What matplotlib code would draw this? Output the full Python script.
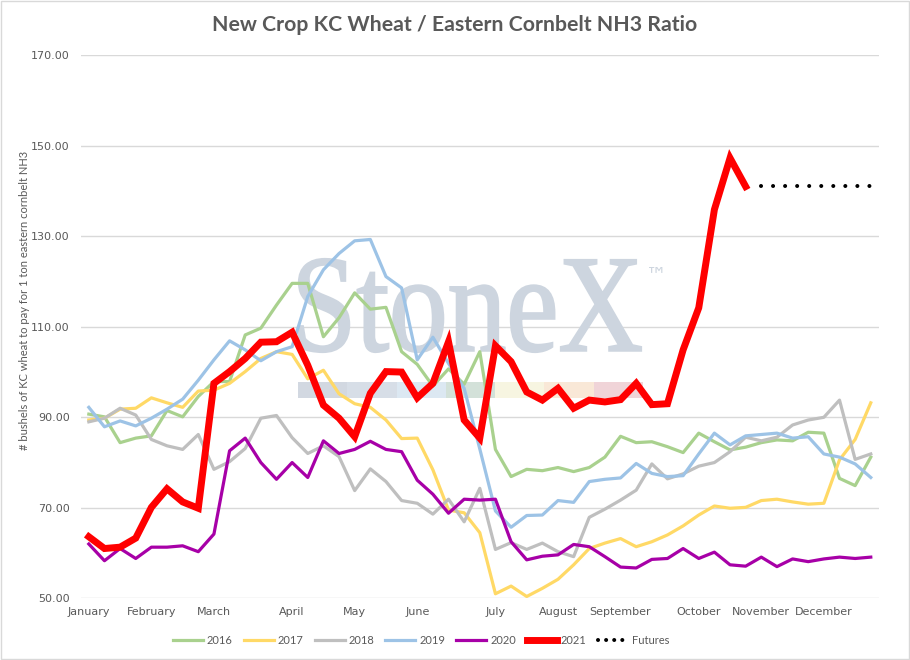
import matplotlib
matplotlib.use('Agg')
import matplotlib.pyplot as plt
import numpy as np
from matplotlib.lines import Line2D
from matplotlib.patches import PathPatch, Rectangle
from matplotlib.textpath import TextPath
from matplotlib.font_manager import FontProperties
from matplotlib.transforms import Affine2D

### data (weekly, 51 weeks)
months = ['January', 'February', 'March', 'April', 'May', 'June', 'July',
          'August', 'September', 'October', 'November', 'December']
month_week = [0, 4, 8, 13, 17, 21, 26, 30, 34, 39, 43, 47]

y2016 = [90.7, 90.1, 84.4, 85.4, 85.9, 91.5, 90.1, 94.6, 97.9, 97.9, 108.2, 109.7, 114.8,
         119.6, 119.6, 107.8, 112.0, 117.5, 113.9, 114.3, 104.5, 101.7, 96.9, 100.7, 97.3,
         104.5, 82.9, 76.9, 78.5, 78.2, 78.9, 78.0, 78.9, 81.2, 85.8, 84.4, 84.6, 83.5,
         82.2, 86.5, 84.6, 82.8, 83.4, 84.4, 85.0, 84.8, 86.7, 86.5, 76.5, 74.9, 81.2]
y2017 = [89.4, 89.8, 91.8, 92.0, 94.3, 93.2, 92.2, 95.8, 96.0, 97.5, 100.1, 103.0, 104.5,
         103.9, 98.5, 100.4, 95.2, 93.0, 92.2, 89.4, 85.3, 85.4, 78.4, 69.5, 68.9, 64.5,
         51.0, 52.7, 50.4, 52.2, 54.2, 57.4, 61.0, 62.2, 63.2, 61.4, 62.5, 64.0, 66.0,
         68.4, 70.4, 69.9, 70.1, 71.6, 71.9, 71.3, 70.8, 71.0, 80.6, 85.1, 93.2]
y2018 = [89.0, 89.8, 92.0, 90.5, 85.1, 83.7, 82.9, 86.2, 78.5, 80.2, 83.1, 89.8, 90.4,
         85.5, 82.0, 83.7, 81.3, 73.8, 78.6, 75.8, 71.6, 71.0, 68.6, 71.9, 66.9, 74.3,
         60.8, 62.3, 60.8, 62.2, 60.3, 59.2, 67.9, 69.7, 71.7, 73.9, 79.7, 76.4, 77.5,
         79.2, 80.0, 82.4, 85.6, 84.8, 85.6, 88.3, 89.4, 90.0, 93.8, 80.7, 81.9]
y2019 = [92.2, 87.9, 89.2, 88.1, 89.8, 91.8, 94.0, 98.2, 102.7, 106.9, 104.9, 102.5, 104.5,
         105.6, 116.7, 122.6, 126.2, 129.0, 129.3, 121.1, 118.6, 102.7, 107.7, 101.9, 96.4,
         83.0, 69.3, 65.7, 68.3, 68.4, 71.6, 71.2, 75.8, 76.3, 76.6, 79.8, 77.6, 76.9,
         77.1, 81.9, 86.5, 83.9, 85.9, 86.2, 86.5, 85.4, 85.7, 81.9, 81.2, 79.7, 76.7]
y2020 = [62.0, 58.3, 61.0, 58.8, 61.3, 61.3, 61.6, 60.3, 64.2, 82.6, 85.4, 80.0, 76.3,
         80.0, 76.7, 84.8, 82.0, 82.9, 84.7, 82.9, 82.4, 76.1, 73.0, 68.8, 71.9, 71.7,
         71.9, 62.5, 58.5, 59.3, 59.6, 61.9, 61.4, 59.2, 56.9, 56.7, 58.6, 58.8, 61.0,
         58.8, 60.2, 57.4, 57.1, 59.1, 57.0, 58.7, 58.1, 58.7, 59.1, 58.8, 59.1]
y2021 = [63.6, 61.0, 61.3, 63.3, 70.1, 74.2, 71.3, 69.9, 97.5, 100.1, 103.0, 106.6, 106.7,
         108.8, 101.5, 92.7, 89.8, 85.7, 95.3, 100.1, 100.0, 94.3, 97.5, 106.7, 89.4, 85.4,
         105.8, 102.3, 95.6, 93.8, 96.4, 92.0, 93.8, 93.4, 93.9, 97.5, 92.8, 93.0, 104.9,
         114.2, 135.9, 147.3, 141.0]
futures = [141.1, 141.1, 141.1, 141.1, 141.1, 141.1, 141.1, 141.1]

### figure
W, H = 910, 660
fig = plt.figure(figsize=(W / 100, H / 100), dpi=100)
ax = fig.add_axes([81 / W, (H - 598.3) / H, (878.6 - 81) / W, (598.3 - 55.3) / H])

plt.rcParams['font.family'] = ['Lato', 'DejaVu Sans']
txt = '#595959'
wm = '#cdd5df'

### watermark
def px_box(x0, x1, ytop, ybot):
    return x0 / W, x1 / W, (H - ybot) / H, (H - ytop) / H

tp = TextPath((0, 0), 'StoneX', size=100, prop=FontProperties(family='Liberation Serif'))
ext = tp.get_extents()
bx0, bx1, by0, by1 = px_box(299, 641, 259, 352)
tr = (Affine2D().translate(-ext.x0, -ext.y0)
      .scale((bx1 - bx0) / ext.width, (by1 - by0) / ext.height)
      .translate(bx0, by0) + fig.transFigure)
ax.add_patch(PathPatch(tp, transform=tr, facecolor=wm, edgecolor=wm, lw=1.6,
                       zorder=0.8, clip_on=False))
fig.text(646 / W, (H - 275) / H, '™', color=wm, fontsize=15,
         family='DejaVu Sans', va='center', ha='left')

bar_colors = ['#d2d8e1', '#d7dee7', '#dce8f2', '#d3e1d9', '#f7f5e1', '#f9e8d7', '#f0d4d8']
seg = (643 - 298) / len(bar_colors)
for k, c in enumerate(bar_colors):
    sx0, sx1, sy0, sy1 = px_box(298 + k * seg, 298 + (k + 1) * seg, 381.7, 398.3)
    ax.add_patch(Rectangle((sx0, sy0), sx1 - sx0, sy1 - sy0, transform=fig.transFigure,
                           facecolor=c, edgecolor='none', zorder=0.8, clip_on=False))

### series
weeks = np.arange(len(y2016))
thin = 2.3
ax.plot(weeks, y2016, color='#a9d18e', lw=thin, label='2016', zorder=2)
ax.plot(weeks, y2017, color='#ffd966', lw=thin, label='2017', zorder=2)
ax.plot(weeks, y2018, color='#bfbfbf', lw=thin, label='2018', zorder=2)
ax.plot(weeks, y2019, color='#9dc3e6', lw=thin, label='2019', zorder=2)
ax.plot(weeks, y2020, color='#a700a7', lw=thin, label='2020', zorder=2)
ax.plot(weeks[:len(y2021)], y2021, color='#ff0000', lw=5.0, label='2021', zorder=3,
        solid_joinstyle='miter')
fut_x = weeks[len(y2021):len(y2021) + len(futures)]
ax.plot(fut_x, futures, color='black', lw=2.9, linestyle=(0, (0.01, 2.98)),
        dash_capstyle='round', zorder=3)

### axes
ax.set_xlim(-0.5, len(weeks) - 0.5)
ax.set_ylim(50, 170)
ax.set_yticks(np.arange(50, 171, 20))
ax.set_yticklabels([f'{v:.2f}' for v in np.arange(50, 171, 20)])
ax.set_xticks(month_week)
ax.set_xticklabels(months)
ax.tick_params(axis='both', length=0, labelsize=8, labelcolor=txt)
ax.tick_params(axis='y', pad=8)
ax.tick_params(axis='x', pad=6)
ax.grid(axis='y', color='#d9d9d9', lw=1)
ax.set_axisbelow(True)
for s in ax.spines.values():
    s.set_visible(False)

fig.text(455 / W, (H - 25) / H, 'New Crop KC Wheat / Eastern Cornbelt NH3 Ratio',
         ha='center', va='center', fontsize=15.3, fontweight='bold', color=txt)
fig.text(25 / W, (H - 300) / H, '# bushels of KC wheat to pay for 1 ton eastern cornbelt NH3',
         rotation=90, ha='center', va='center', fontsize=8, color=txt)

### legend
handles, labels = ax.get_legend_handles_labels()
handles.append(Line2D([], [], color='black', lw=2.9, linestyle=(0, (0.01, 2.0)),
                      dash_capstyle='round'))
labels.append('Futures')
leg = fig.legend(handles, labels, loc='center', bbox_to_anchor=(421 / W, (H - 640) / H),
                 ncol=7, frameon=False, fontsize=8, handlelength=2.7,
                 handletextpad=0.35, columnspacing=1.0, labelcolor=txt)

fig.add_artist(Rectangle((0.001, 0.001), 0.998, 0.998, transform=fig.transFigure,
                         fill=False, edgecolor='#d9d9d9', lw=1))

fig.savefig('out.png', dpi=100)
